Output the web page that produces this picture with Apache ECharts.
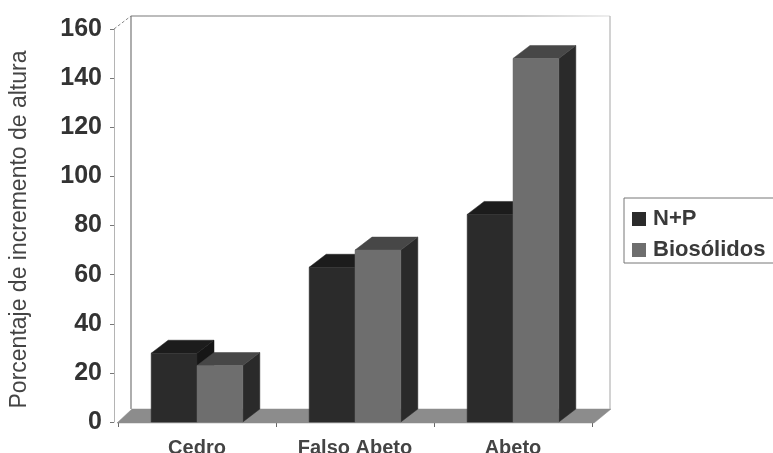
<!DOCTYPE html>
<html><head><meta charset="utf-8">
<style>html,body{margin:0;background:#fff;overflow:hidden}#c{width:773px;height:453px;filter:blur(0.6px)}</style>
<script src="https://cdn.jsdelivr.net/npm/echarts@6/dist/echarts.min.js"></script>
</head><body><div id="c"></div>
<script>
const categories = ['Cedro', 'Falso Abeto', 'Abeto'];
const npValues = [28, 63, 84.5];
const bioValues = [23, 70, 148];
const tickLabels = [0, 20, 40, 60, 80, 100, 120, 140, 160];

const DX = 17, DY = 13;
function poly(points, fill) {
  return { type: 'polygon', shape: { points }, style: { fill, stroke: fill, lineWidth: 0.5 } };
}
function barRenderer(side, front, top, right) {
  return function (params, api) {
    const c = api.coord([api.value(0), api.value(1)]);
    const base = api.coord([api.value(0), 0]);
    const w = api.size([1, 0])[0] * 0.29;
    const x0 = side < 0 ? c[0] - w : c[0], x1 = x0 + w;
    const yT = c[1], yB = base[1];
    return { type: 'group', children: [
      poly([[x1, yB], [x1 + DX, yB - DY], [x1 + DX, yT - DY], [x1, yT]], right),
      poly([[x0, yT], [x1, yT], [x1 + DX, yT - DY], [x0 + DX, yT - DY]], top),
      poly([[x0, yT], [x1, yT], [x1, yB], [x0, yB]], front)
    ]};
  };
}
function wallRenderer(params) {
  const g = params.coordSys, L = g.x, R = g.x + g.width, T = g.y, B = g.y + g.height;
  const line = (x1, y1, x2, y2, stroke, lineWidth, lineDash) => ({
    type: 'line', shape: { x1, y1, x2, y2 }, style: { stroke, lineWidth, lineDash }
  });
  const fade = new echarts.graphic.LinearGradient(0, 0, 1, 0, [
    { offset: 0, color: '#777' }, { offset: 0.8, color: '#999' }, { offset: 1, color: '#ddd' }
  ]);
  return { type: 'group', children: [
    poly([[L - 1, B + 1], [R + 2, B + 1], [R + 2 + DX, B - DY], [L + DX - 3, B - DY]], '#8c8c8c'),
    line(L + DX - 4, B - DY, L + DX - 4, T - DY, '#777', 1.2),
    line(L + DX - 4, T - DY, R + DX + 1, T - DY, fade, 1.2),
    line(R + DX + 1, T - DY, R + DX + 1, B - DY, '#b4b4b4', 1.2),
    line(L - 4, T, L + DX - 4, T - DY, '#888', 1, [3, 2])
  ]};
}
const chart = echarts.init(document.getElementById('c'));
chart.setOption({
  animation: false,
  backgroundColor: '#fff',
  grid: { left: 118, right: 181, top: 29, bottom: 31, outerBoundsMode: 'none' },
  legend: {
    data: ['N+P', 'Biosólidos'], orient: 'vertical', left: 624, top: 198,
    icon: 'rect', itemWidth: 14, itemHeight: 14, itemGap: 9,
    padding: [10, 30, 2, 8], borderColor: '#777', borderWidth: 1,
    textStyle: { fontFamily: 'Liberation Sans', fontSize: 22, fontWeight: 'bold', color: '#3a3a3a', padding: [0, 0, 0, 2] }
  },
  xAxis: {
    type: 'category', data: categories,
    axisLine: { lineStyle: { color: '#aaa' } },
    axisTick: { show: true, alignWithLabel: false, length: 5, lineStyle: { color: '#666' } },
    axisLabel: { fontFamily: 'Liberation Sans', fontSize: 20, fontWeight: 'bold', color: '#444', margin: 16 }
  },
  yAxis: {
    type: 'value', min: 0, max: 160, interval: 20, offset: 4,
    name: 'Porcentaje de incremento de altura', nameLocation: 'middle', nameRotate: 90, nameGap: 83,
    nameTextStyle: { fontFamily: 'Liberation Sans', fontSize: 23, color: '#444', padding: [0, 8, 0, 0] },
    axisLine: { show: true, lineStyle: { color: '#b4b4b4' } },
    axisTick: { show: true, length: 4, lineStyle: { color: '#777' } },
    splitLine: { show: false },
    axisLabel: { fontFamily: 'Liberation Sans', fontSize: 25, fontWeight: 'bold', color: '#333', margin: 12,
      formatter: v => tickLabels.includes(v) ? String(v) : '' }
  },
  series: [
    { type: 'custom', name: 'walls', renderItem: wallRenderer, data: [[0, 0]], silent: true, clip: false, z: 1,
      encode: { x: 0, y: 1 } },
    { type: 'custom', name: 'N+P', renderItem: barRenderer(-1, '#2b2b2b', '#1c1c1c', '#161616'),
      itemStyle: { color: '#2b2b2b' }, clip: false, z: 2, encode: { x: 0, y: 1 },
      data: npValues.map((v, i) => [i, v]) },
    { type: 'custom', name: 'Biosólidos', renderItem: barRenderer(1, '#6e6e6e', '#474747', '#2a2a2a'),
      itemStyle: { color: '#6e6e6e' }, clip: false, z: 3, encode: { x: 0, y: 1 },
      data: bioValues.map((v, i) => [i, v]) }
  ]
});
</script></body></html>
